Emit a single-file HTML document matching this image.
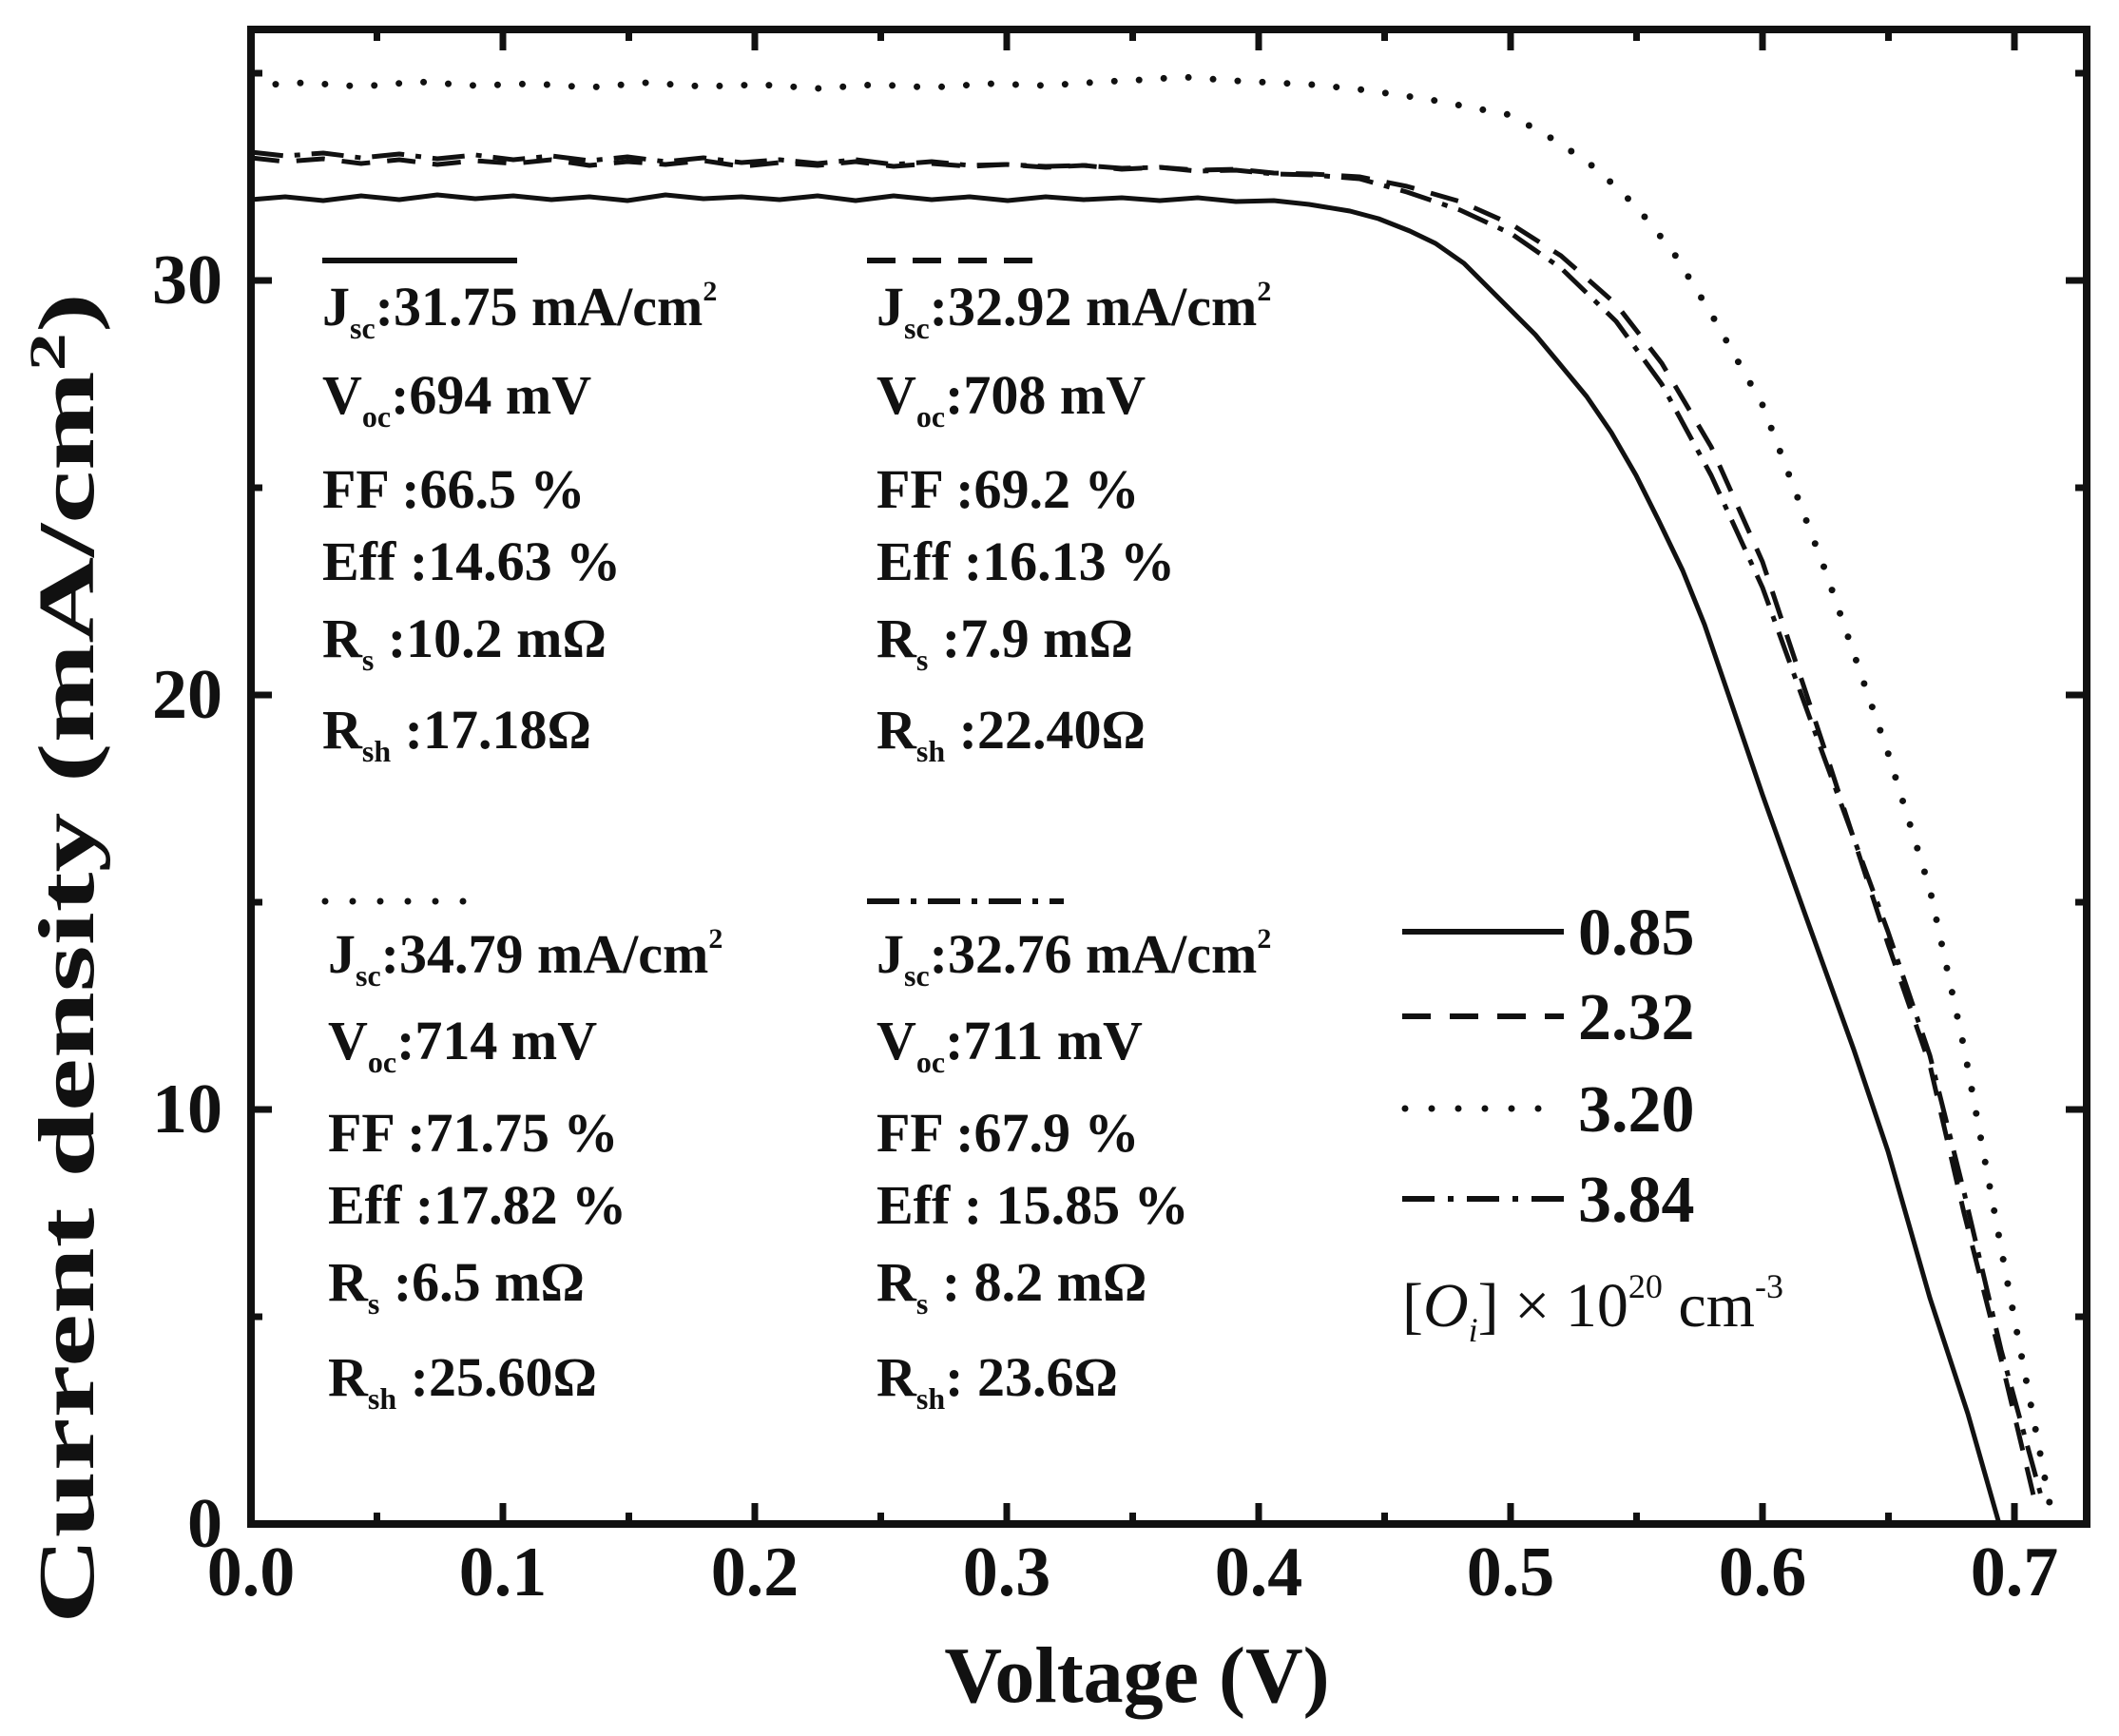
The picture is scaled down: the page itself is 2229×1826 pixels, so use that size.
<!DOCTYPE html>
<html><head><meta charset="utf-8"><style>
html,body{margin:0;padding:0;background:#fff}
svg{display:block}
text{font-family:"Liberation Serif",serif;font-weight:bold;fill:#111}
</style></head><body>
<svg width="2229" height="1826" viewBox="0 0 2229 1826" xmlns="http://www.w3.org/2000/svg">
<rect width="2229" height="1826" fill="#fff"/>
<g fill="none" stroke="#111" stroke-linejoin="round">
<polyline stroke-width="5" points="264,210 300,207 340,211 380,206 420,210 460,205 500,209 540,206 580,210 620,207 660,211 700,205 740,209 780,207 820,210 860,206 900,211 940,206 980,210 1020,207 1060,211 1100,207 1140,210 1180,208 1220,211 1260,208 1300,212 1340,211 1377,215 1420,222 1450,230 1483,243 1510,256 1540,277 1565,302 1589,326 1615,352 1640,382 1669,417 1695,455 1721,500 1745,548 1770,600 1793,657 1820,736 1854,836 1900,965 1950,1104 1986,1211 2030,1365 2070,1487 2103,1603"/>
<polyline stroke-width="5" stroke-dasharray="30 18" points="264,166 300,170 340,167 380,172 420,168 460,173 500,169 540,172 580,168 620,174 660,170 700,173 740,169 780,175 820,171 860,174 900,170 940,175 980,172 1020,175 1059,173 1100,176 1140,174 1180,178 1220,176 1260,179 1300,178 1340,182 1380,183 1430,186 1480,196 1536,212 1590,236 1642,269 1700,320 1748,382 1800,470 1854,591 1920,790 1986,993 2030,1120 2066,1276 2105,1430 2140,1577"/>
<polyline stroke-width="5" stroke-dasharray="34 12 6 12" points="264,160 300,164 340,161 380,166 420,162 460,167 500,163 540,168 580,164 620,169 660,165 700,170 740,166 780,171 820,168 860,172 900,168 940,173 980,170 1020,174 1059,173 1100,175 1140,174 1180,177 1220,176 1260,180 1300,179 1340,183 1380,184 1430,188 1480,202 1536,221 1590,246 1642,282 1700,338 1748,404 1800,500 1854,618 1920,800 1986,980 2030,1110 2066,1254 2105,1420 2148,1577"/>
<polyline stroke-width="7" stroke-linecap="round" stroke-dasharray="0 26" points="264,90 320,87 380,91 440,86 500,90 560,88 620,92 680,87 740,91 800,89 860,93 920,89 980,92 1040,88 1100,90 1160,86 1200,84 1244,81 1300,85 1380,89 1430,94 1500,104 1589,121 1640,150 1680,178 1721,217 1760,265 1800,330 1854,426 1920,600 1986,792 2030,935 2066,1102 2110,1340 2156,1581"/>
</g>
<rect x="264" y="31" width="1931" height="1572" fill="none" stroke="#111" stroke-width="8"/>
<g stroke="#111" stroke-width="7">
<path d="M264 1603v-22M529 1603v-22M794 1603v-22M1059 1603v-22M1324 1603v-22M1589 1603v-22M1854 1603v-22M2119 1603v-22
M396.5 1603v-12M661.5 1603v-12M926.5 1603v-12M1191.5 1603v-12M1456.5 1603v-12M1721.5 1603v-12M1986.5 1603v-12
M529 31v22M794 31v22M1059 31v22M1324 31v22M1589 31v22M1854 31v22M2119 31v22
M396.5 31v12M661.5 31v12M926.5 31v12M1191.5 31v12M1456.5 31v12M1721.5 31v12M1986.5 31v12
M264 1167h22M264 731h22M264 295h22M264 1385h12M264 949h12M264 513h12M264 77h12
M2195 1167h-22M2195 731h-22M2195 295h-22M2195 1385h-12M2195 949h-12M2195 513h-12M2195 77h-12"/>
</g>
<g font-size="74" text-anchor="middle">
<text x="264" y="1678">0.0</text><text x="529" y="1678">0.1</text><text x="794" y="1678">0.2</text><text x="1059" y="1678">0.3</text><text x="1324" y="1678">0.4</text><text x="1589" y="1678">0.5</text><text x="1854" y="1678">0.6</text><text x="2119" y="1678">0.7</text>
</g>
<g font-size="74" text-anchor="end">
<text x="234" y="1627">0</text><text x="234" y="1191">10</text><text x="234" y="755">20</text><text x="234" y="319">30</text>
</g>
<text x="1196" y="1790" font-size="84" text-anchor="middle">Voltage (V)</text>
<text transform="translate(98,1008) rotate(-90)" font-size="84" text-anchor="middle" textLength="1400" lengthAdjust="spacingAndGlyphs">Current density (mA/cm<tspan font-size="54" dy="-30">2</tspan><tspan dy="30">)</tspan></text>
<g font-size="58">
<text x="339" y="342">J<tspan font-size="32" dy="14">sc</tspan><tspan dy="-14">:31.75 mA/cm</tspan><tspan font-size="30" dy="-26">2</tspan></text>
<text x="339" y="435">V<tspan font-size="32" dy="14">oc</tspan><tspan dy="-14">:694 mV</tspan></text>
<text x="339" y="534">FF :66.5 %</text>
<text x="339" y="610">Eff :14.63 %</text>
<text x="339" y="691">R<tspan font-size="32" dy="14">s</tspan><tspan dy="-14"> :10.2 mΩ</tspan></text>
<text x="339" y="787">R<tspan font-size="32" dy="14">sh</tspan><tspan dy="-14"> :17.18Ω</tspan></text>
<text x="922" y="342">J<tspan font-size="32" dy="14">sc</tspan><tspan dy="-14">:32.92 mA/cm</tspan><tspan font-size="30" dy="-26">2</tspan></text>
<text x="922" y="435">V<tspan font-size="32" dy="14">oc</tspan><tspan dy="-14">:708 mV</tspan></text>
<text x="922" y="534">FF :69.2 %</text>
<text x="922" y="610">Eff :16.13 %</text>
<text x="922" y="691">R<tspan font-size="32" dy="14">s</tspan><tspan dy="-14"> :7.9 mΩ</tspan></text>
<text x="922" y="787">R<tspan font-size="32" dy="14">sh</tspan><tspan dy="-14"> :22.40Ω</tspan></text>
<text x="345" y="1023">J<tspan font-size="32" dy="14">sc</tspan><tspan dy="-14">:34.79 mA/cm</tspan><tspan font-size="30" dy="-26">2</tspan></text>
<text x="345" y="1114">V<tspan font-size="32" dy="14">oc</tspan><tspan dy="-14">:714 mV</tspan></text>
<text x="345" y="1211">FF :71.75 %</text>
<text x="345" y="1287">Eff :17.82 %</text>
<text x="345" y="1368">R<tspan font-size="32" dy="14">s</tspan><tspan dy="-14"> :6.5 mΩ</tspan></text>
<text x="345" y="1468">R<tspan font-size="32" dy="14">sh</tspan><tspan dy="-14"> :25.60Ω</tspan></text>
<text x="922" y="1023">J<tspan font-size="32" dy="14">sc</tspan><tspan dy="-14">:32.76 mA/cm</tspan><tspan font-size="30" dy="-26">2</tspan></text>
<text x="922" y="1114">V<tspan font-size="32" dy="14">oc</tspan><tspan dy="-14">:711 mV</tspan></text>
<text x="922" y="1211">FF :67.9 %</text>
<text x="922" y="1287">Eff : 15.85 %</text>
<text x="922" y="1368">R<tspan font-size="32" dy="14">s</tspan><tspan dy="-14"> : 8.2 mΩ</tspan></text>
<text x="922" y="1468">R<tspan font-size="32" dy="14">sh</tspan><tspan dy="-14">: 23.6Ω</tspan></text>
</g>
<g stroke="#111" stroke-width="6" fill="none">
<line x1="339" y1="274" x2="544" y2="274"/>
<line x1="912" y1="274" x2="1090" y2="274" stroke-dasharray="30 18"/>
<line x1="342" y1="948" x2="516" y2="948" stroke-dasharray="0 29" stroke-linecap="round" stroke-width="7"/>
<line x1="912" y1="948" x2="1119" y2="948" stroke-dasharray="34 12 6 12"/>
<line x1="1475" y1="980" x2="1645" y2="980"/>
<line x1="1475" y1="1069" x2="1645" y2="1069" stroke-dasharray="30 20"/>
<line x1="1478" y1="1166" x2="1645" y2="1166" stroke-dasharray="0 28" stroke-linecap="round" stroke-width="7"/>
<line x1="1475" y1="1261" x2="1645" y2="1261" stroke-dasharray="34 14 6 14"/>
</g>
<g font-size="70">
<text x="1660" y="1004">0.85</text><text x="1660" y="1093">2.32</text><text x="1660" y="1190">3.20</text><text x="1660" y="1285">3.84</text>
</g>
<text x="1475" y="1395" font-size="66" style="font-weight:normal">[<tspan font-style="italic">O</tspan><tspan font-size="36" font-style="italic" dy="16">i</tspan><tspan dy="-16">] × 10</tspan><tspan font-size="36" dy="-30">20</tspan><tspan dy="30"> cm</tspan><tspan font-size="36" dy="-30">-3</tspan></text>
</svg>
</body></html>
